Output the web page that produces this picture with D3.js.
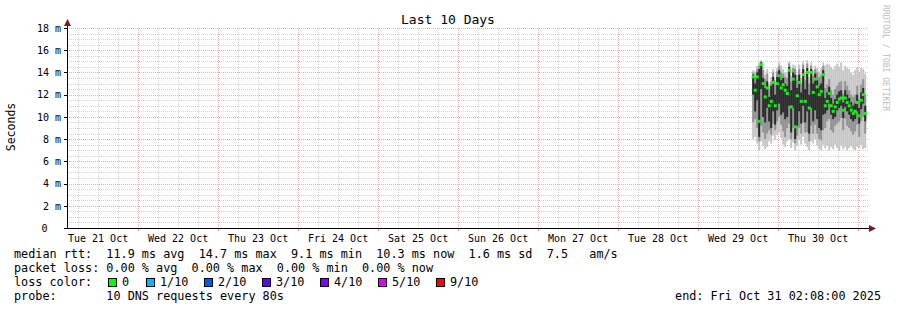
<!DOCTYPE html>
<html><head><meta charset="utf-8">
<script src="https://cdn.jsdelivr.net/npm/d3@7"></script>
<style>
html,body{margin:0;padding:0;background:#fff;}
svg{display:block;}
text{font-family:"DejaVu Sans Mono",monospace;fill:#000;}
</style></head>
<body><svg id="c" width="897" height="310"></svg>
<script>
// ---------- data ----------
const title = "Last 10 Days";
const yLabel = "Seconds";
const endTime = new Date(Date.UTC(2025, 9, 31, 2, 8, 0));
const rangeDays = 10;
const colStepSec = 2160;
const yTicks = [0, 2, 4, 6, 8, 10, 12, 14, 16, 18];
const yTickLabels = ["0", "2 m", "4 m", "6 m", "8 m", "10 m", "12 m", "14 m", "16 m", "18 m"];
const dayLabels = ["Tue 21 Oct", "Wed 22 Oct", "Thu 23 Oct", "Fri 24 Oct", "Sat 25 Oct",
                   "Sun 26 Oct", "Mon 27 Oct", "Tue 28 Oct", "Wed 29 Oct", "Thu 30 Oct"];
const dayDates = ["2025-10-21", "2025-10-22", "2025-10-23", "2025-10-24", "2025-10-25",
                  "2025-10-26", "2025-10-27", "2025-10-28", "2025-10-29", "2025-10-30"];
// RTT in ms per column (last 57 columns of the graph)
const medians = [13.6,12.4,13.6,9.6,14.7,13.0,11.8,12.6,11.0,11.4,13.1,11.0,13.0,13.7,12.6,12.9,12.4,12.1,14.2,10.9,
                 13.4,9.1,11.9,13.1,11.4,13.8,11.4,14.0,10.8,14.0,12.2,13.4,12.7,12.0,12.3,13.8,11.0,11.4,12.1,11.0,
                 10.5,10.9,11.3,11.6,11.7,10.6,11.7,11.3,11.0,10.6,10.3,10.5,11.3,10.1,11.5,12.0,10.3];
const pingMin = [8.0,8.2,7.6,7.0,7.8,7.4,7.1,7.3,7.8,7.6,8.3,7.9,8.4,8.6,8.1,7.5,7.3,7.8,8.0,7.2,
                 7.7,7.0,7.4,7.9,7.5,8.2,7.6,7.3,7.0,7.8,7.6,8.0,7.4,7.1,7.0,7.5,7.2,7.4,7.0,7.3,
                 7.1,7.5,7.2,7.0,7.4,7.1,7.3,7.0,7.2,7.4,7.1,7.0,7.3,7.2,7.5,7.1,7.2];
const pingLow = [9.5,9.8,9.0,7.8,9.2,8.6,8.0,8.5,8.8,8.4,9.4,8.8,9.6,10.0,9.3,8.7,8.2,9.0,9.4,8.0,
                 9.0,7.6,8.3,9.0,8.5,9.5,8.6,8.6,7.8,9.2,8.5,9.3,8.5,8.0,7.9,8.8,9.0,9.6,9.8,8.8,
                 8.6,9.2,9.4,9.6,9.9,8.8,9.8,9.2,9.0,8.7,8.4,8.7,9.3,8.2,9.6,10.0,8.5];
const coreLow = [12.0,10.5,11.5,8.2,12.5,10.0,9.5,10.8,9.6,9.0,10.5,9.3,10.6,11.2,10.2,10.4,9.8,10.0,11.0,8.6,
                 10.8,8.0,9.2,10.5,9.4,11.0,9.5,10.5,8.5,10.8,9.6,10.6,9.8,9.0,8.8,10.2,10.3,10.6,11.2,10.2,
                 9.8,10.0,10.6,10.8,11.0,9.9,10.9,10.5,10.2,9.8,9.6,9.8,10.5,9.4,10.7,11.2,9.6];
const coreHigh = [13.8,13.0,14.0,14.3,14.9,13.5,12.6,13.2,11.8,12.8,13.6,12.0,13.6,14.2,13.3,13.5,13.0,12.8,14.5,12.4,
                  14.0,13.8,12.6,13.8,12.2,14.3,12.5,14.4,12.0,14.3,13.0,13.9,13.3,12.8,13.0,14.2,11.7,12.2,12.7,11.7,
                  11.2,11.6,12.0,12.3,12.4,11.3,12.4,12.0,11.7,11.3,11.0,11.2,12.0,10.8,12.2,12.6,11.0];
const pingHigh = [14.0,13.6,14.3,14.6,15.0,14.2,13.4,13.9,12.5,13.2,14.0,12.9,14.1,14.6,14.0,13.9,13.6,13.5,14.8,13.2,
                  14.4,14.3,13.3,14.3,13.0,14.7,13.3,14.8,13.0,14.6,13.7,14.3,14.0,13.6,13.8,14.6,12.6,12.9,13.4,12.4,
                  12.0,12.5,12.8,13.1,13.2,12.1,13.2,12.8,12.4,12.0,11.8,12.0,12.8,11.6,12.9,13.4,12.0];
const pingMax = [14.2,14.1,14.6,14.9,15.1,14.5,13.8,14.3,13.0,13.6,14.3,13.3,14.4,14.9,14.6,14.3,14.0,14.0,15.0,13.7,
                 14.7,14.6,13.8,14.7,13.5,15.0,13.8,15.1,13.6,14.9,14.2,14.6,14.4,14.1,14.4,14.9,14.6,14.8,14.7,14.5,
                 14.3,14.6,14.8,14.5,14.9,14.2,14.6,14.4,14.3,14.0,13.8,14.2,14.5,14.1,14.4,14.3,13.9];
const lossLabels = ["0", "1/10", "2/10", "3/10", "4/10", "5/10", "9/10"];
const lossColors = ["#00ff00", "#00b8ff", "#0059ff", "#5e00ff", "#7e00ff", "#dd00ff", "#ff0000"];
const legendLines = [
  "median rtt:  11.9 ms avg  14.7 ms max  9.1 ms min  10.3 ms now  1.6 ms sd  7.5   am/s",
  "packet loss: 0.00 % avg  0.00 % max  0.00 % min  0.00 % now",
  "loss color:",
  "probe:       10 DNS requests every 80s"
];
const endLabel = "end: Fri Oct 31 02:08:00 2025";
const watermark = "RRDTOOL / TOBI OETIKER";

// ---------- layout ----------
const svg = d3.select("#c");
const plotL = 67, plotR = 868, plotT = 28, plotB = 228;
const startTime = new Date(endTime.getTime() - rangeDays * 86400000);
const x = d3.scaleUtc().domain([startTime, endTime]).range([65.2, 865.2]);
const y = d3.scaleLinear().domain([0, 18]).range([plotB, plotT]);

// ---------- grid ----------
const grid = svg.append("g");
const minorY = d3.range(0, 18.01, 0.5).filter(v => Math.abs(v / 2 - Math.round(v / 2)) > 0.01);
grid.selectAll(".hmin").data(minorY).join("line")
  .attr("x1", plotL).attr("x2", plotR)
  .attr("y1", d => Math.round(y(d)) + 0.5).attr("y2", d => Math.round(y(d)) + 0.5)
  .attr("stroke", "#d4d4d4").attr("stroke-dasharray", "1,1");
const hours6 = d3.utcHour.every(6).range(startTime, endTime).filter(d => d.getUTCHours() !== 0);
grid.selectAll(".vmin").data(hours6).join("line")
  .attr("x1", d => Math.round(x(d)) + 0.5).attr("x2", d => Math.round(x(d)) + 0.5)
  .attr("y1", plotT).attr("y2", plotB)
  .attr("stroke", "#d4d4d4").attr("stroke-dasharray", "1,1");
grid.selectAll(".hmaj").data(yTicks.filter(v => v > 0)).join("line")
  .attr("x1", plotL).attr("x2", plotR)
  .attr("y1", d => Math.round(y(d)) + 0.5).attr("y2", d => Math.round(y(d)) + 0.5)
  .attr("stroke", "#f4a8a8").attr("stroke-dasharray", "1,1");
const days = d3.utcDay.range(startTime, endTime);
grid.selectAll(".vmaj").data(days).join("line")
  .attr("x1", d => Math.round(x(d)) + 0.5).attr("x2", d => Math.round(x(d)) + 0.5)
  .attr("y1", plotT).attr("y2", plotB)
  .attr("stroke", "#f4a8a8").attr("stroke-dasharray", "1,1");

// ---------- smoke ----------
const n = medians.length;
const cols = medians.map((m, i) => ({
  t: new Date(endTime.getTime() - (n - 1 - i) * colStepSec * 1000),
  med: m, mn: pingMin[i], lo: pingLow[i], cl: coreLow[i], ch: coreHigh[i], hi: pingHigh[i], mx: pingMax[i]
}));
const colW = 2;
const smoke = svg.append("g");
function band(key1, key2, color) {
  smoke.append("g").selectAll("rect").data(cols).join("rect")
    .attr("x", d => x(d.t) - colW / 2).attr("width", colW)
    .attr("y", d => y(d[key2])).attr("height", d => y(d[key1]) - y(d[key2]))
    .attr("fill", color);
}
band("mn", "mx", "#c6c6c6");
band("lo", "hi", "#929292");
band("cl", "ch", "#2a2a2a");
smoke.append("g").selectAll("rect").data(cols).join("rect")
  .attr("x", d => x(d.t) - 1.5).attr("width", 3)
  .attr("y", d => y(d.med) - 1.5).attr("height", 3)
  .attr("fill", lossColors[0]);

// ---------- axes ----------
const ax = svg.append("g");
ax.append("line").attr("x1", plotL + 0.5).attr("x2", plotL + 0.5).attr("y1", plotB + 1).attr("y2", 23)
  .attr("stroke", "#000");
ax.append("line").attr("x1", 64).attr("x2", 870).attr("y1", plotB + 0.5).attr("y2", plotB + 0.5)
  .attr("stroke", "#000");
ax.append("path").attr("d", `M${plotL + 0.5 - 3.5},${26} L${plotL + 0.5},${19} L${plotL + 0.5 + 3.5},${26} Z`).attr("fill", "#7a1c1c");
ax.append("path").attr("d", `M${869},${plotB + 0.5 - 3.5} L${876},${plotB + 0.5} L${869},${plotB + 0.5 + 3.5} Z`).attr("fill", "#7a1c1c");
ax.selectAll(".yt").data(yTicks).join("line")
  .attr("x1", 64).attr("x2", plotL)
  .attr("y1", d => Math.round(y(d)) + 0.5).attr("y2", d => Math.round(y(d)) + 0.5)
  .attr("stroke", "#000");
ax.selectAll(".xt").data(days).join("line")
  .attr("x1", d => Math.round(x(d)) + 0.5).attr("x2", d => Math.round(x(d)) + 0.5)
  .attr("y1", plotB + 1).attr("y2", plotB + 3)
  .attr("stroke", "#f08080");
ax.selectAll(".xt2").data(hours6).join("line")
  .attr("x1", d => Math.round(x(d)) + 0.5).attr("x2", d => Math.round(x(d)) + 0.5)
  .attr("y1", plotB + 1).attr("y2", plotB + 2)
  .attr("stroke", "#d0d0d0");

svg.append("g").selectAll("text").data(yTicks).join("text")
  .attr("x", (d, i) => yTickLabels[i].length === 1 ? 47.5 : 61)
  .attr("y", d => y(d) + 3.8)
  .attr("text-anchor", "end").attr("font-size", 10).attr("fill", "#000")
  .text((d, i) => yTickLabels[i]);
svg.append("g").selectAll("text").data(dayLabels).join("text")
  .attr("x", (d, i) => x(new Date(Date.parse(dayDates[i] + "T12:00:00Z"))))
  .attr("y", 241.5)
  .attr("text-anchor", "middle").attr("font-size", 10)
  .text(d => d);

svg.append("text").attr("x", 448).attr("y", 24).attr("text-anchor", "middle")
  .attr("font-size", 13).text(title);
svg.append("text").attr("transform", "translate(15,127) rotate(-90)")
  .attr("text-anchor", "middle").attr("font-size", 11.5).text(yLabel);
svg.append("text").attr("transform", "translate(883,5) rotate(90)")
  .attr("font-size", 8).style("fill", "#bdbdbd").text(watermark);

// legend
const legY = [258, 272, 286, 300];
svg.append("g").selectAll("text").data(legendLines).join("text")
  .attr("x", 14).attr("y", (d, i) => legY[i])
  .attr("font-size", 11.8).attr("xml:space", "preserve").style("white-space", "pre")
  .text(d => d);
const lg = svg.append("g").selectAll("g").data(lossLabels).join("g")
  .attr("transform", (d, i) => `translate(${i === 0 ? 108 : 146 + (i - 1) * 58},0)`);
lg.append("rect").attr("x", 0.5).attr("y", 278.5).attr("width", 8).attr("height", 8)
  .attr("fill", (d, i) => lossColors[i]).attr("stroke", "#000");
lg.append("text").attr("x", 14).attr("y", 286).attr("font-size", 11.8).text(d => d);
svg.append("text").attr("x", 881).attr("y", 300).attr("text-anchor", "end")
  .attr("font-size", 11.8).text(endLabel);
</script></body></html>
